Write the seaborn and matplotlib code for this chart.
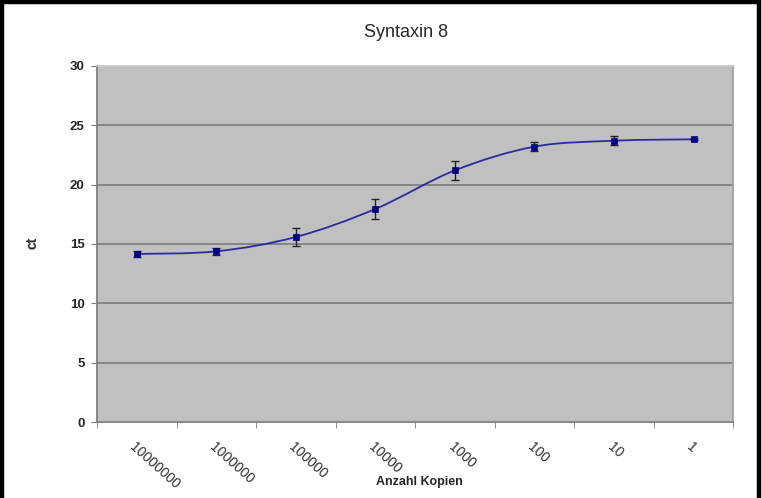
import numpy as np
import pandas as pd
import matplotlib.pyplot as plt
import seaborn as sns
from matplotlib.path import Path
from matplotlib.patches import PathPatch, Rectangle

copies = ['10000000', '1000000', '100000', '10000', '1000', '100', '10', '1']
ct_mean = [14.16, 14.38, 15.59, 17.95, 21.2, 23.2, 23.7, 23.82]
ct_err = [0.25, 0.3, 0.76, 0.84, 0.77, 0.4, 0.36, 0.1]

df = pd.DataFrame({'pos': range(len(copies)), 'ct': ct_mean, 'err': ct_err})

sns.set_style('white')
plt.rcParams['font.family'] = ['Liberation Sans', 'DejaVu Sans']

fig = plt.figure(figsize=(7.62, 4.98), dpi=100)
ax = fig.add_axes([0.1273, 0.1526, 0.835, 0.715])
ax.set_facecolor('#c0c0c0')

# gridlines
for v in range(5, 30, 5):
    ax.axhline(v, color='#808080', lw=1.3, zorder=1)

# smoothed line (Excel style bezier through the points)
x = df['pos'].to_numpy(float)
y = df['ct'].to_numpy(float)
verts = [(x[0], y[0])]
codes = [Path.MOVETO]
n = len(x)
for i in range(n - 1):
    p0 = np.array([x[max(i - 1, 0)], y[max(i - 1, 0)]])
    p1 = np.array([x[i], y[i]])
    p2 = np.array([x[i + 1], y[i + 1]])
    p3 = np.array([x[min(i + 2, n - 1)], y[min(i + 2, n - 1)]])
    c1 = p1 + (p2 - p0) / 6
    c2 = p2 - (p3 - p1) / 6
    verts += [tuple(c1), tuple(c2), tuple(p2)]
    codes += [Path.CURVE4] * 3
ax.add_patch(PathPatch(Path(verts, codes), fill=False, edgecolor='#2a2a9a', lw=1.3, zorder=3))

ax.errorbar(df['pos'], df['ct'], yerr=df['err'], fmt='none', ecolor='#202020',
            elinewidth=1, capsize=3, capthick=1, zorder=4)
sns.scatterplot(data=df, x='pos', y='ct', marker='s', s=16, color='#000080',
                edgecolor='#000080', linewidth=0.5, ax=ax, zorder=5, legend=False)

ax.set_xlim(-0.5, len(copies) - 0.5)
ax.set_ylim(0, 30)
ax.set_yticks(range(0, 31, 5))
ax.set_yticklabels([str(v) for v in range(0, 31, 5)], fontweight='bold', fontsize=9.5)
ax.set_xticks(range(len(copies)))
ax.set_xticklabels(copies, rotation=-42, ha='left', va='top', rotation_mode='anchor',
                   fontsize=10, color='#303030')
ax.set_xticks(np.arange(-0.5, len(copies)), minor=True)
ax.tick_params(axis='x', which='major', length=0, pad=13)
ax.tick_params(axis='x', which='minor', length=4, color='#808080', direction='out', bottom=True)
ax.tick_params(axis='y', length=4, color='#808080', direction='out', left=True, pad=5)

for side in ['left', 'bottom', 'right', 'top']:
    ax.spines[side].set_color('#808080')
    ax.spines[side].set_linewidth(1.3)
ax.spines['right'].set_color('#a0a0a0')
ax.spines['top'].set_color('#c8c8c8')

ax.set_xlabel('')
ax.set_ylabel('')
fig.text(0.042, 0.512, 'ct', rotation=90, fontweight='bold', fontsize=10,
         ha='center', va='center')
fig.text(0.551, 0.032, 'Anzahl Kopien', fontweight='bold', fontsize=9,
         ha='center', va='center')
fig.text(0.533, 0.935, 'Syntaxin 8', fontsize=13, ha='center', va='center')

# outer frame, open at the bottom
fig.patches.append(Rectangle((0.003, -0.05), 0.993, 1.05 - 0.005, transform=fig.transFigure,
                             fill=False, edgecolor='black', lw=3.2))

fig.savefig('out.png', dpi=100)
